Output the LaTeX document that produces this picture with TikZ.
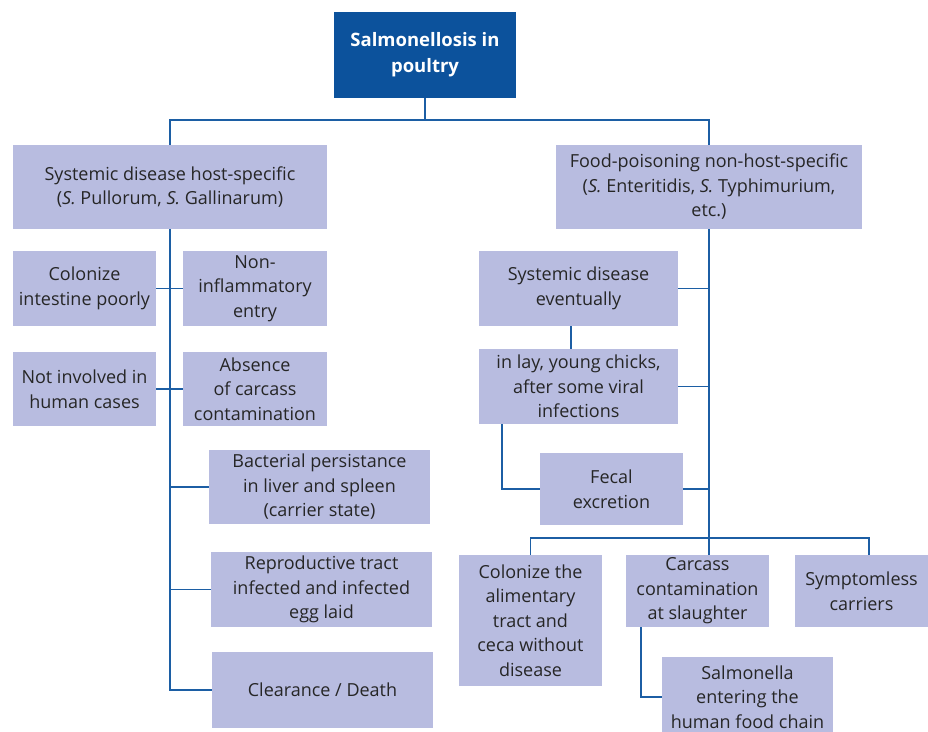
\documentclass[tikz,border=0pt]{standalone}
\usepackage{fontspec}
\setmainfont{Open Sans}
\usetikzlibrary{positioning}
\definecolor{boxfill}{RGB}{184,188,224}
\definecolor{linkblue}{RGB}{28,94,164}
\definecolor{titleblue}{RGB}{12,82,156}
\tikzset{
  box/.style={fill=boxfill, align=center, inner sep=0pt, text=black!85,
    font=\fontsize{18}{24.5}\selectfont},
  titlebox/.style={fill=titleblue, align=center, inner sep=0pt, text=white,
    font=\fontsize{18.5}{26}\selectfont\bfseries},
  link/.style={draw=linkblue, line width=1.8pt},
}
\begin{document}
\begin{tikzpicture}[x=1pt,y=-1pt]
    \useasboundingbox (0,0) rectangle (928,731);
    \clip (0,0) rectangle (928,731);

    % Top and the two main branches
    \node[titlebox, minimum width=182pt, minimum height=86pt] (top) at (425,55) {Salmonellosis in\\poultry};
    \node[box, minimum width=314pt, minimum height=84pt] (host) at (170,187) {Systemic disease host-specific\\(\textit{S.} Pullorum, \textit{S.} Gallinarum)};
    \node[box, minimum width=306pt, minimum height=84pt] (food) at (709,187) {Food-poisoning non-host-specific\\(\textit{S.} Enteritidis, \textit{S.} Typhimurium,\\etc.)};

    % Host-specific side
    \node[box, minimum width=143pt, minimum height=75pt] (colon) at (84.5,288.5) {Colonize\\intestine poorly};
    \node[box, minimum width=144pt, minimum height=75pt] (noninf) at (255,288.5) {Non-\\inflammatory\\entry};
    \node[box, minimum width=143pt, minimum height=74pt] (notinv) at (84.5,389) {Not involved in\\human cases};
    \node[box, minimum width=144pt, minimum height=74pt] (absence) at (255,389) {Absence\\of carcass\\contamination};
    \node[box, minimum width=221pt, minimum height=74pt] (bact) at (319.5,487) {Bacterial persistance\\in liver and spleen\\(carrier state)};
    \node[box, minimum width=221pt, minimum height=75pt] (repro) at (321.5,589.5) {Reproductive tract\\infected and infected\\egg laid};
    \node[box, minimum width=221pt, minimum height=76pt] (clear) at (322.5,690) {Clearance / Death};

    % Non-host-specific side
    \node[box, minimum width=199pt, minimum height=75pt] (sde) at (578.5,288.5) {Systemic disease\\eventually};
    \node[box, minimum width=199pt, minimum height=75pt] (lay) at (578.5,386.5) {in lay, young chicks,\\after some viral\\infections};
    \node[box, minimum width=143pt, minimum height=72pt] (fecal) at (611.5,489) {Fecal\\excretion};
    \node[box, minimum width=143pt, minimum height=131pt] (alim) at (530.5,620.5) {Colonize the\\alimentary\\tract and\\ceca without\\disease};
    \node[box, minimum width=143pt, minimum height=72pt] (carc) at (697.5,591) {Carcass\\contamination\\at slaughter};
    \node[box, minimum width=133pt, minimum height=72pt] (sym) at (861.5,591) {Symptomless\\carriers};
    \node[box, minimum width=171pt, minimum height=80pt] (salm) at (747.5,697) {Salmonella\\entering the\\human food chain};

    % Connectors
    \coordinate (split) at (425,120);
    \coordinate (bus) at (709,538);
    \draw[link] (top.south) -- (split);
    \draw[link] (host.north) |- (split) -| (food.north);

    \draw[link] (host.south) |- (clear.west);
    \draw[link] (colon.east) -- (noninf.west);
    \draw[link] (notinv.east) -- (absence.west);
    \draw[link] (host.south |- bact.west) -- (bact.west);
    \draw[link] (host.south |- repro.west) -- (repro.west);

    \draw[link] (food.south) -- (food.south |- carc.north);
    \draw[link] (sde.east) -- (sde.east -| food.south);
    \draw[link] (lay.east) -- (lay.east -| food.south);
    \draw[link] (fecal.east) -- (fecal.east -| food.south);
    \draw[link] ([xshift=-7.5pt]sde.south) -- ([xshift=-7.5pt]lay.north);
    \draw[link] ([xshift=-76.5pt]lay.south) |- (fecal.west);
    \draw[link] (alim.north) |- (bus) -| ([xshift=7.5pt]sym.north);
    \draw[link] ([xshift=-56.5pt]carc.south) |- (salm.west);
\end{tikzpicture}
\end{document}
